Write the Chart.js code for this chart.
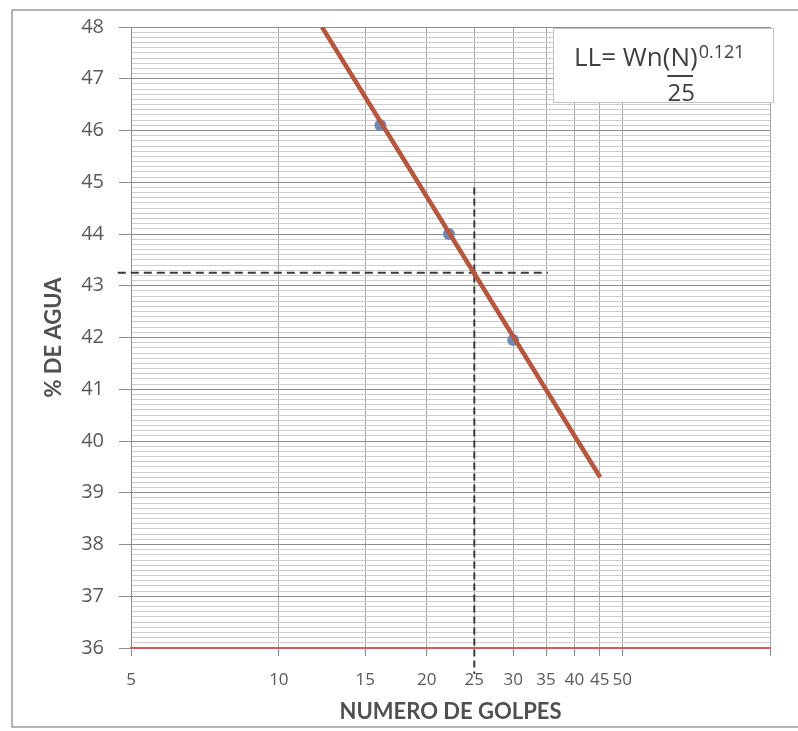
<!DOCTYPE html>
<html>
<head>
<meta charset="utf-8">
<script src="https://cdn.jsdelivr.net/npm/chart.js@4.4.1/dist/chart.umd.min.js"></script>
<style>
  html, body { margin: 0; padding: 0; background: #ffffff; }
  #wrap { width: 798px; height: 731px; position: relative; }
</style>
</head>
<body>
<div id="wrap"><canvas id="c" width="798" height="731"></canvas></div>
<script>
// Ensayo de límite líquido: número de golpes vs. contenido de agua
const golpes = [16.1, 22.2, 30.0];
const humedad = [46.1, 44.0, 41.95];

// Recta de flujo (escala semilogarítmica)
const trendGolpes = [12.24, 45.1];
const trendHumedad = [48.0, 39.3];

// Lectura del límite líquido a 25 golpes
const llGolpes = 25;
const llHumedad = 43.25;
const guiaHorizGolpes = [4.7, 35.3];
const guiaVertHumedad = [44.9, 35.5];

// Ejes
const xTickValues = [5, 10, 15, 20, 25, 30, 35, 40, 45, 50, 100];
const xTickLabels = ['5', '10', '15', '20', '25', '30', '35', '40', '45', '50', ''];
const yMin = 36, yMax = 48;

const isInt = v => Math.abs(v - Math.round(v)) < 1e-6;

const frameAndFormula = {
  id: 'frameAndFormula',
  afterDraw(chart) {
    const ctx = chart.ctx;
    ctx.save();
    // page frame
    ctx.strokeStyle = '#9c9c9c';
    ctx.lineWidth = 1.5;
    ctx.beginPath();
    ctx.moveTo(798, 10); ctx.lineTo(12, 10); ctx.lineTo(12, 727); ctx.lineTo(798, 727);
    ctx.stroke();

    // formula box
    const bx = 553, by = 28, bw = 220, bh = 74;
    ctx.fillStyle = '#ffffff';
    ctx.fillRect(bx, by, bw, bh);
    ctx.strokeStyle = '#c4c4c4';
    ctx.lineWidth = 1;
    ctx.strokeRect(bx + 0.5, by + 0.5, bw, bh);

    ctx.fillStyle = '#404040';
    ctx.textBaseline = 'alphabetic';
    ctx.textAlign = 'left';
    ctx.font = '26px "Open Sans"';
    let x = 574;
    const base = 66;
    const p1 = 'LL= Wn(';
    ctx.fillText(p1, x, base);
    x += ctx.measureText(p1).width;
    const nW = ctx.measureText('N').width;
    const nX = x;
    ctx.fillText('N', x, base);
    x += nW;
    ctx.fillText(')', x, base);
    x += ctx.measureText(')').width;
    ctx.font = '18px "Open Sans"';
    ctx.fillText('0.121', x + 1, 58);
    // fraction bar under N
    ctx.strokeStyle = '#404040';
    ctx.lineWidth = 2;
    ctx.beginPath();
    ctx.moveTo(nX - 3, 76); ctx.lineTo(nX + nW + 3, 76);
    ctx.stroke();
    ctx.font = '24px "Open Sans"';
    ctx.textAlign = 'center';
    ctx.fillText('25', nX + nW / 2 + 1, 101);
    ctx.restore();
  }
};

new Chart(document.getElementById('c'), {
  type: 'scatter',
  data: {
    datasets: [
      {
        label: 'Recta de flujo',
        type: 'line',
        data: trendGolpes.map((g, i) => ({ x: g, y: trendHumedad[i] })),
        borderColor: '#b5563f',
        borderWidth: 4.5,
        pointRadius: 0,
        fill: false
      },
      {
        label: 'Ensayos',
        data: golpes.map((g, i) => ({ x: g, y: humedad[i] })),
        backgroundColor: '#6f8ab5',
        borderWidth: 0,
        pointRadius: 6
      },
      {
        label: 'LL horizontal',
        type: 'line',
        data: guiaHorizGolpes.map(g => ({ x: g, y: llHumedad })),
        borderColor: '#3a3a3a',
        borderWidth: 2,
        borderDash: [8, 5],
        pointRadius: 0,
        clip: false
      },
      {
        label: 'LL vertical',
        type: 'line',
        data: guiaVertHumedad.map(h => ({ x: llGolpes, y: h })),
        borderColor: '#3a3a3a',
        borderWidth: 2,
        borderDash: [7, 4],
        pointRadius: 0,
        clip: false
      }
    ]
  },
  options: {
    responsive: false,
    animation: false,
    devicePixelRatio: 1,
    layout: { padding: { top: 23, right: 28, left: 0, bottom: 0 } },
    plugins: { legend: { display: false }, tooltip: { enabled: false }, title: { display: false } },
    scales: {
      x: {
        type: 'logarithmic',
        min: 5,
        max: 100,
        afterBuildTicks: s => { s.ticks = xTickValues.map(v => ({ value: v })); },
        afterFit: s => { s.height = 83; },
        ticks: {
          autoSkip: false,
          maxRotation: 0,
          padding: 14,
          color: '#595959',
          font: { family: '"Open Sans"', size: 17 },
          callback: (v, i) => xTickLabels[i]
        },
        grid: { color: '#a9a9a9', lineWidth: 1, tickLength: 8, tickColor: '#8a8a8a' },
        border: { color: '#d65a5a', width: 2 },
        title: {
          display: true,
          text: 'NUMERO DE GOLPES',
          color: '#505050',
          font: { family: 'Lato', size: 22, weight: 'bold' },
          padding: { top: 0, bottom: 6 }
        }
      },
      y: {
        type: 'linear',
        min: yMin,
        max: yMax,
        afterBuildTicks: s => {
          const t = [];
          for (let i = 0; i <= (yMax - yMin) * 10; i++) t.push({ value: Math.round((yMin + i * 0.1) * 10) / 10 });
          s.ticks = t;
        },
        afterFit: s => { s.width = 131; },
        ticks: {
          autoSkip: false,
          padding: 15,
          color: '#595959',
          font: { family: '"Open Sans"', size: 20 },
          callback: v => isInt(v) ? String(Math.round(v)) : ''
        },
        grid: {
          color: c => isInt(c.tick.value) ? '#8e8e8e' : '#cdcdcd',
          tickColor: c => isInt(c.tick.value) ? '#8e8e8e' : 'rgba(0,0,0,0)',
          lineWidth: 1,
          tickLength: 12
        },
        border: { color: '#8e8e8e', width: 1 },
        title: {
          display: true,
          text: '% DE AGUA',
          color: '#505050',
          font: { family: 'Lato', size: 22, weight: 'bold' },
          padding: { top: 41, bottom: 0 }
        }
      }
    }
  },
  plugins: [frameAndFormula]
});
</script>
</body>
</html>
